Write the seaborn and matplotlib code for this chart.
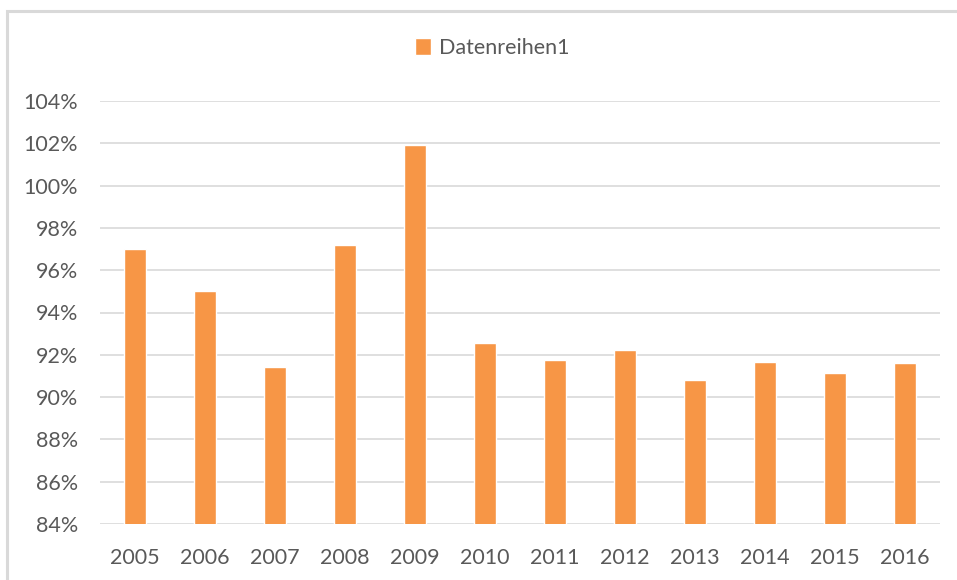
import matplotlib
matplotlib.use("Agg")
import matplotlib.pyplot as plt
import seaborn as sns
import pandas as pd
from matplotlib.patches import Rectangle
from matplotlib.ticker import FuncFormatter

years = ["2005", "2006", "2007", "2008", "2009", "2010",
         "2011", "2012", "2013", "2014", "2015", "2016"]
values = [97.0, 95.0, 91.4, 97.2, 101.9, 92.55,
          91.76, 92.25, 90.79, 91.64, 91.16, 91.59]
series_name = "Datenreihen1"
y_ticks = [84, 86, 88, 90, 92, 94, 96, 98, 100, 102, 104]

sns.set_style("white")
plt.rcParams['font.family'] = ['Lato', 'DejaVu Sans']

df = pd.DataFrame({"year": years, "value": values})

fig = plt.figure(figsize=(9.57, 5.8), dpi=100)
ax = fig.add_axes([100/957, 56/580, 840/957, 423/580])

sns.barplot(data=df, x="year", y="value", color="#F79646", saturation=1,
            width=0.31, ax=ax, label=series_name, zorder=3)

ax.set_ylim(84, 104)
ax.set_yticks(y_ticks)
ax.yaxis.set_major_formatter(FuncFormatter(lambda v, p: f"{v:.0f}%"))
ax.grid(axis="y", color="#D9D9D9", linewidth=1.2, zorder=0)
ax.set_axisbelow(True)
for s in ax.spines.values():
    s.set_visible(False)
ax.tick_params(axis="both", length=0, labelsize=15.5, colors="#595959")
ax.tick_params(axis="y", pad=16)
ax.tick_params(axis="x", pad=17)
ax.set_xlabel("")
ax.set_ylabel("")

leg = ax.legend(loc="center", bbox_to_anchor=(492/957, 1 - 48/580),
                bbox_transform=fig.transFigure, frameon=False,
                fontsize=15.5, handlelength=0.75, handleheight=0.8,
                handletextpad=0.35, labelcolor="#595959")

fig.patches.append(Rectangle((7/957, -0.1), 1.1, (580 - 11)/580 + 0.1,
                             transform=fig.transFigure, fill=False,
                             edgecolor="#D9D9D9", linewidth=2.2))

fig.savefig("out.png", dpi=100)
